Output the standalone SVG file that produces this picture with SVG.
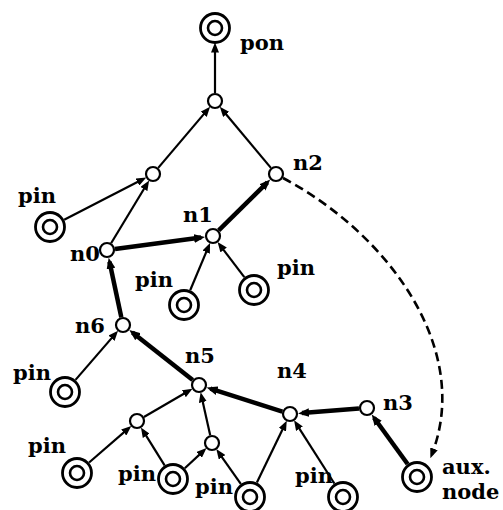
<svg xmlns="http://www.w3.org/2000/svg" width="503" height="510" viewBox="0 0 503 510">
<style>
.n{fill:#fff;stroke:#000;stroke-width:2.2}
.po{fill:#fff;stroke:#000;stroke-width:2.8}
.pi{fill:none;stroke:#000;stroke-width:2.6}
.e{fill:none;stroke:#000;stroke-width:2.2}
.t{fill:none;stroke:#000;stroke-width:4.5}
.d{fill:none;stroke:#000;stroke-width:2.6;stroke-dasharray:9 5}
text{font-family:"DejaVu Serif","Liberation Serif",serif;font-weight:bold;font-size:21px;fill:#000}
</style>
<defs>
<marker id="a" viewBox="0 0 10 8" markerUnits="userSpaceOnUse" markerWidth="10" markerHeight="8" refX="5.5" refY="4" orient="auto"><path d="M0,0 L10,4 L0,8 z" fill="#000"/></marker>
<marker id="b" viewBox="0 0 10 8" markerUnits="userSpaceOnUse" markerWidth="11" markerHeight="9" refX="6.4" refY="4" orient="auto"><path d="M0,0 L10,4 L0,8 z" fill="#000"/></marker>
</defs>
<g id="connectors">
<line class="e" x1="215" y1="93" x2="215" y2="47" marker-end="url(#a)"/>
<line class="e" x1="158.2" y1="167.9" x2="207.2" y2="110.1" marker-end="url(#a)"/>
<line class="e" x1="270.9" y1="167.9" x2="222.7" y2="110.2" marker-end="url(#a)"/>
<line class="e" x1="64.2" y1="219.7" x2="142.3" y2="179.5" marker-end="url(#a)"/>
<line class="e" x1="111.1" y1="243.2" x2="146.8" y2="184.3" marker-end="url(#a)"/>
<line class="t" x1="115" y1="249" x2="201.1" y2="237.6" marker-end="url(#b)"/>
<line class="t" x1="218.7" y1="230.4" x2="267.4" y2="182.4" marker-end="url(#b)"/>
<line class="e" x1="190.2" y1="290.2" x2="208.3" y2="247.1" marker-end="url(#a)"/>
<line class="e" x1="244.3" y1="277.2" x2="220.3" y2="245.6" marker-end="url(#a)"/>
<line class="t" x1="121.3" y1="317.2" x2="109.5" y2="261.7" marker-end="url(#b)"/>
<line class="e" x1="75.5" y1="379.9" x2="115.1" y2="334.1" marker-end="url(#a)"/>
<line class="t" x1="192.7" y1="380" x2="132.4" y2="332.4" marker-end="url(#b)"/>
<line class="t" x1="282.4" y1="411.6" x2="210.4" y2="388.6" marker-end="url(#b)"/>
<line class="e" x1="143.9" y1="417" x2="188.6" y2="391" marker-end="url(#a)"/>
<line class="e" x1="210.2" y1="435.2" x2="201.6" y2="396.7" marker-end="url(#a)"/>
<line class="e" x1="89.1" y1="462.5" x2="127.9" y2="428.9" marker-end="url(#a)"/>
<line class="e" x1="164.6" y1="465.4" x2="143.3" y2="431.2" marker-end="url(#a)"/>
<line class="e" x1="184.8" y1="468.2" x2="203.2" y2="451.1" marker-end="url(#a)"/>
<line class="e" x1="240.8" y1="483.9" x2="218.9" y2="452.8" marker-end="url(#a)"/>
<line class="e" x1="256.9" y1="482.6" x2="284.8" y2="424.8" marker-end="url(#a)"/>
<line class="e" x1="334.4" y1="483.5" x2="296.5" y2="424.1" marker-end="url(#a)"/>
<line class="t" x1="359" y1="408.6" x2="302" y2="413.1" marker-end="url(#b)"/>
<line class="t" x1="407.6" y1="464" x2="374" y2="417.7" marker-end="url(#b)"/>
<path class="d" d="M283,178 C390,235 472,350 432,454" marker-end="url(#a)"/>
</g>
<g id="pon"><circle class="po" cx="215" cy="28" r="14.5"/><circle class="pi" cx="215" cy="28" r="7"/><text x="240" y="50">pon</text></g>
<g id="top"><circle class="n" cx="215" cy="101" r="7"/></g>
<g id="a1"><circle class="n" cx="153" cy="174" r="7"/></g>
<g id="n2"><circle class="n" cx="276" cy="174" r="7"/><text x="293" y="170">n2</text></g>
<g id="pin1"><circle class="po" cx="50" cy="227" r="14.5"/><circle class="pi" cx="50" cy="227" r="7"/><text x="18" y="203">pin</text></g>
<g id="n0"><circle class="n" cx="107" cy="250" r="7"/><text x="70" y="261">n0</text></g>
<g id="n1"><circle class="n" cx="213" cy="236" r="7"/><text x="183" y="222">n1</text></g>
<g id="pin2"><circle class="po" cx="184" cy="305" r="14.5"/><circle class="pi" cx="184" cy="305" r="7"/><text x="135" y="287">pin</text></g>
<g id="pin3"><circle class="po" cx="254" cy="290" r="14.5"/><circle class="pi" cx="254" cy="290" r="7"/><text x="277" y="275">pin</text></g>
<g id="n6"><circle class="n" cx="123" cy="325" r="7"/><text x="75" y="333">n6</text></g>
<g id="pin4"><circle class="po" cx="65" cy="392" r="14.5"/><circle class="pi" cx="65" cy="392" r="7"/><text x="13" y="380">pin</text></g>
<g id="n5"><circle class="n" cx="199" cy="385" r="7"/><text x="185" y="363">n5</text></g>
<g id="b1"><circle class="n" cx="137" cy="421" r="7"/></g>
<g id="pin5"><circle class="po" cx="77" cy="473" r="14.5"/><circle class="pi" cx="77" cy="473" r="7"/><text x="28" y="453">pin</text></g>
<g id="pin6"><circle class="po" cx="173" cy="479" r="14.5"/><circle class="pi" cx="173" cy="479" r="7"/><text x="118" y="481">pin</text></g>
<g id="c1"><circle class="n" cx="212" cy="443" r="7"/></g>
<g id="pin7"><circle class="po" cx="250" cy="497" r="14.5"/><circle class="pi" cx="250" cy="497" r="7"/><text x="195" y="494">pin</text></g>
<g id="n4"><circle class="n" cx="290" cy="414" r="7"/><text x="277" y="378">n4</text></g>
<g id="n3"><circle class="n" cx="367" cy="408" r="7"/><text x="383" y="410">n3</text></g>
<g id="pin8"><circle class="po" cx="343" cy="497" r="14.5"/><circle class="pi" cx="343" cy="497" r="7"/><text x="295" y="483">pin</text></g>
<g id="aux"><circle class="po" cx="417" cy="477" r="14.5"/><circle class="pi" cx="417" cy="477" r="7"/><text x="442" y="474">aux.</text><text x="442" y="499">node</text></g>
</svg>
